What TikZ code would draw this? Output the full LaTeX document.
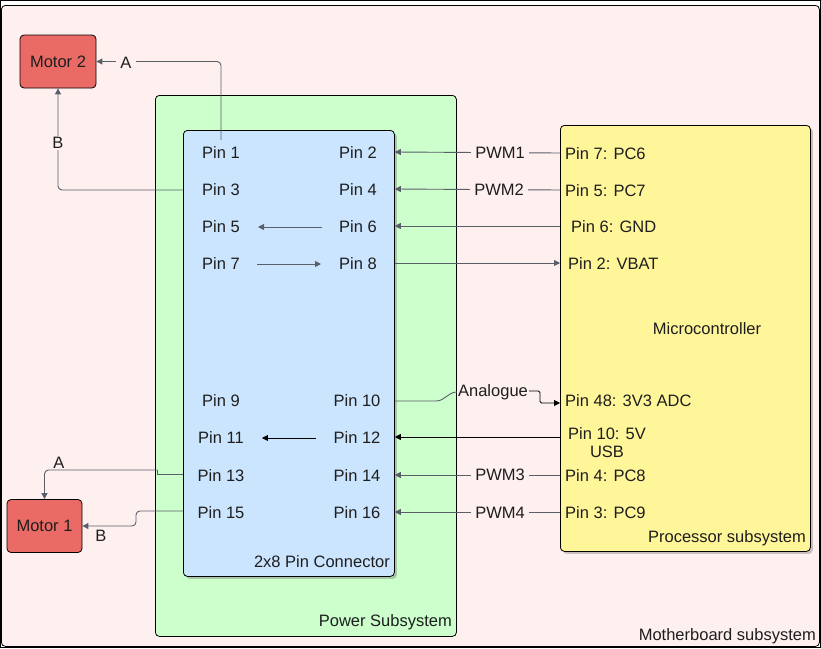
\documentclass[tikz,border=0pt]{standalone}
\usepackage{fontspec}
\setmainfont{Liberation Sans}
\usetikzlibrary{arrows.meta,shadows}
\definecolor{mbfill}{HTML}{FFF0F0}
\definecolor{pwfill}{HTML}{CCFFCC}
\definecolor{cnfill}{HTML}{CCE5FF}
\definecolor{prfill}{HTML}{FFF599}
\definecolor{mtfill}{HTML}{EA6B66}
\definecolor{lncol}{HTML}{595F69}
\definecolor{txcol}{HTML}{1E1E1E}
\begin{document}
\begin{tikzpicture}[x=1pt,y=-1pt,
  font=\fontsize{16.5}{18}\selectfont, text=txcol,
  boxshadow/.style={drop shadow={shadow xshift=2.5pt,shadow yshift=-2.5pt,opacity=0.35,fill=black!60}},
  panel/.style={draw=black, line width=0.8pt, rounded corners=4pt, anchor=north west, inner sep=0pt},
  motor/.style={draw=black, line width=0.8pt, rounded corners=4pt, fill=mtfill, inner sep=0pt},
  pin/.style={inner sep=2pt},
  ppin/.style={anchor=west, inner sep=0pt},
  ttl/.style={anchor=east, inner sep=0pt},
  lbl/.style={fill=mbfill, inner xsep=4pt, inner ysep=1pt},
  arr/.style={draw=lncol, line width=0.9pt, -{Triangle[length=6pt,width=6pt]}},
  ln/.style={draw=lncol, line width=0.9pt},
  arrk/.style={draw=black, line width=0.9pt, -{Triangle[length=6pt,width=6pt]}}
]
\useasboundingbox (0,0) rectangle (821,648);
% motherboard
\node[panel, fill=mbfill, minimum width=818pt, minimum height=641pt] (mb) at (1,5) {};
\draw[black, line width=1.2pt] (0.6,0.6) rectangle (820.4,647.4);
\node[ttl] (lmb) at (816,636) {Motherboard subsystem};
% power subsystem
\node[panel, fill=pwfill, minimum width=301pt, minimum height=541pt] (pw) at (155,95) {};
\node[ttl] (lpw) at (452,622) {Power Subsystem};
% connector
\node[panel, fill=cnfill, boxshadow, minimum width=211pt, minimum height=446pt] (conn) at (183,130) {};
\node[ttl] (lconn) at (390,562) {2x8 Pin Connector};
% processor
\node[panel, fill=prfill, boxshadow, minimum width=250pt, minimum height=426pt] (proc) at (560,125) {};
\node[ttl] (lproc) at (806,538) {Processor subsystem};
\node (mcu) at (707,329) {Microcontroller};
% motors
\node[motor, minimum width=76pt, minimum height=53pt] (m2) at (58,61.5) {Motor 2};
\node[motor, minimum width=75pt, minimum height=53pt] (m1) at (44.5,526) {Motor 1};
% pins left
\node[pin] (p1) at (221,153) {Pin 1};
\node[pin] (p3) at (221,190) {Pin 3};
\node[pin] (p5) at (221,227) {Pin 5};
\node[pin] (p7) at (221,264) {Pin 7};
\node[pin] (p9) at (221,401) {Pin 9};
\node[pin] (p11) at (221,438) {Pin 11};
\node[pin] (p13) at (221,476) {Pin 13};
\node[pin] (p15) at (221,513) {Pin 15};
% pins right
\node[pin] (p2) at (358,153) {Pin 2};
\node[pin] (p4) at (358,190) {Pin 4};
\node[pin] (p6) at (358,227) {Pin 6};
\node[pin] (p8) at (358,264) {Pin 8};
\node[pin] (p10) at (357,401) {Pin 10};
\node[pin] (p12) at (357,438) {Pin 12};
\node[pin] (p14) at (357,476) {Pin 14};
\node[pin] (p16) at (357,513) {Pin 16};
% processor pins
\node[ppin] (q7) at (565,154) {Pin 7: PC6};
\node[ppin] (q5) at (565,191) {Pin 5: PC7};
\node[ppin] (q6) at (571,227) {Pin 6: GND};
\node[ppin] (q2) at (568,264) {Pin 2: VBAT};
\node[ppin] (q48) at (565,401) {Pin 48: 3V3 ADC};
\node[align=center, inner sep=0pt] (q10) at (607,443) {Pin 10: 5V\\USB};
\node[ppin] (q4) at (565,476) {Pin 4: PC8};
\node[ppin] (q3) at (565,513) {Pin 3: PC9};
% coordinates
\coordinate (c1) at (221,140);
\coordinate (c48) at (560,403);
% connectors to motors
\draw[arr, rounded corners=4pt] (c1) |- (m2.east);
\draw[arr, rounded corners=4pt] (conn.west |- 0,190) -| (m2.south);
\draw[ln] (conn.west |- 0,474) -- (157,474) -- (157,470);
\draw[arr, rounded corners=4pt] (157,470) -| (m1.north);
\draw[arr, rounded corners=4pt] (conn.west |- 0,511) -- (136,511) -- (136,526) -- (m1.east);
% internal arrows
\draw[arr, shorten <=15pt, shorten >=16pt] (p6) -- (p5);
\draw[arr, shorten <=15pt, shorten >=16pt] (p7) -- (p8);
\draw[arrk, shorten <=15pt, shorten >=16pt] (p12) -- (p11);
% processor links
\draw[arr] (proc.west |- 0,153) -- (conn.east |- 0,152);
\draw[arr] (proc.west |- 0,190) -- (conn.east |- 0,189);
\draw[arr] (proc.west |- 0,226) -- (conn.east |- 0,226);
\draw[arr] (conn.east |- 0,263) -- (proc.west |- 0,263);
\draw[arrk] (proc.west |- 0,437) -- (conn.east |- 0,437);
\draw[arr] (proc.west |- 0,475) -- (conn.east |- 0,475);
\draw[arr] (proc.west |- 0,512) -- (conn.east |- 0,512);
% labels
\node[lbl] (la2) at (126,63) {A};
\node[lbl] (lb2) at (58,143) {B};
\node[inner sep=0pt] (la1) at (59,463) {A};
\node[inner sep=0pt] (lb1) at (101,536) {B};
\node[lbl] (pwm1) at (500,153) {PWM1};
\node[lbl] (pwm2) at (499,190) {PWM2};
\node[lbl] (pwm3) at (500,475) {PWM3};
\node[lbl] (pwm4) at (500,513) {PWM4};
\node[inner xsep=1pt, inner ysep=0pt] (lan) at (493,392) {Analogue};
% analogue link
\draw[ln] (conn.east |- 0,401) -- (436,401) to[out=0,in=180] (lan.west);
\draw[arrk, rounded corners=1.5pt] (lan.east |- 0,391) -- (540,391) -- (540,403) -- (c48);
\end{tikzpicture}
\end{document}
